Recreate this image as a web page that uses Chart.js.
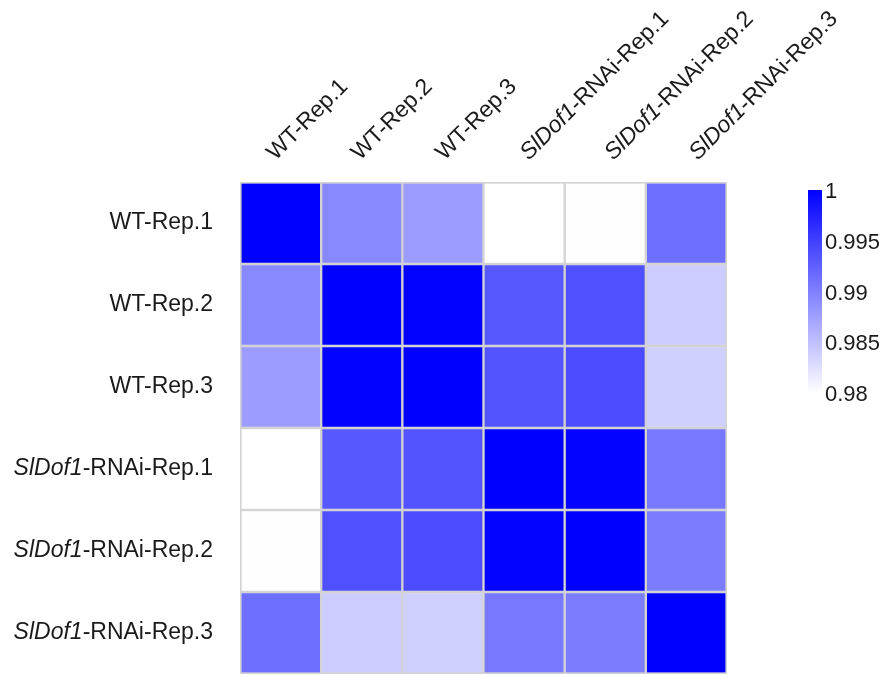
<!DOCTYPE html>
<html>
<head>
<meta charset="utf-8">
<script src="https://cdn.jsdelivr.net/npm/chart.js@4/dist/chart.umd.min.js"></script>
<style>
  html, body { margin: 0; padding: 0; background: #ffffff; }
  canvas { display: block; }
</style>
</head>
<body>
<canvas id="heat" width="883" height="675"></canvas>
<script>
// Sample names; the italic gene prefix is kept separate from the plain suffix
const samplePrefix = ['', '', '', 'SlDof1', 'SlDof1', 'SlDof1'];
const sampleSuffix = ['WT-Rep.1', 'WT-Rep.2', 'WT-Rep.3', '-RNAi-Rep.1', '-RNAi-Rep.2', '-RNAi-Rep.3'];

// Pearson correlation between samples, one row per sample
const rowWT1    = [1.0000, 0.9893, 0.9878, 0.9800, 0.9801, 0.9913];
const rowWT2    = [0.9893, 1.0000, 0.9999, 0.9931, 0.9937, 0.9840];
const rowWT3    = [0.9878, 0.9999, 1.0000, 0.9935, 0.9940, 0.9837];
const rowRNAi1  = [0.9800, 0.9931, 0.9935, 1.0000, 0.9998, 0.9906];
const rowRNAi2  = [0.9801, 0.9937, 0.9940, 0.9998, 1.0000, 0.9903];
const rowRNAi3  = [0.9913, 0.9840, 0.9837, 0.9906, 0.9903, 1.0000];
const corrRows = [rowWT1, rowWT2, rowWT3, rowRNAi1, rowRNAi2, rowRNAi3];

// Colour scale limits and colour-bar tick labels
const colorMin = 0.98;
const colorMax = 1.0;
const barTicks = [1, 0.995, 0.99, 0.985, 0.98];

const FONT = '"Liberation Sans", Arial, sans-serif';

function heatColor(v) {
  let t = (v - colorMin) / (colorMax - colorMin);
  t = Math.max(0, Math.min(1, t));
  const c = Math.round(255 * (1 - t));
  return 'rgb(' + c + ',' + c + ',255)';
}

const fullNames = sampleSuffix.map((s, i) => samplePrefix[i] + s);

// one floating-bar dataset per row; each bar spans one row band on the y scale
const datasets = corrRows.map((row, r) => ({
  label: fullNames[r],
  data: row.map(() => [r, r + 1]),
  backgroundColor: row.map(heatColor),
  borderColor: '#d3d3d3',
  borderWidth: 1.5,
  borderSkipped: false,
  grouped: false,
  barPercentage: 1,
  categoryPercentage: 1
}));

function drawMixedLabel(ctx, prefix, suffix, x, y, size, align) {
  const ital = 'italic ' + size + 'px ' + FONT;
  const norm = size + 'px ' + FONT;
  ctx.font = ital;
  const wp = ctx.measureText(prefix).width;
  ctx.font = norm;
  const ws = ctx.measureText(suffix).width;
  let start = align === 'right' ? x - wp - ws : x;
  ctx.textAlign = 'left';
  ctx.font = ital;
  ctx.fillText(prefix, start, y);
  ctx.font = norm;
  ctx.fillText(suffix, start + wp, y);
}

const decorations = {
  id: 'decorations',
  afterDraw(chart) {
    const ctx = chart.ctx;
    const area = chart.chartArea;
    const xs = chart.scales.x;
    const ys = chart.scales.y;
    ctx.save();
    ctx.fillStyle = '#1a1a1a';

    // outer frame of the grid
    ctx.strokeStyle = '#d3d3d3';
    ctx.lineWidth = 1.5;
    ctx.strokeRect(area.left + 0.75, area.top + 0.75,
                   area.right - area.left - 1.5, area.bottom - area.top - 1.5);

    // row labels on the left
    ctx.textBaseline = 'middle';
    for (let r = 0; r < corrRows.length; r++) {
      const y = ys.getPixelForValue(r + 0.5);
      drawMixedLabel(ctx, samplePrefix[r], sampleSuffix[r], area.left - 27, y, 23, 'right');
    }

    // rotated column labels along the top
    ctx.textBaseline = 'alphabetic';
    const c0 = xs.getPixelForValue(0);
    for (let c = 0; c < fullNames.length; c++) {
      const cx = xs.getPixelForValue(c);
      const ax = c0 - 5 + (cx - c0) * 1.04;
      const ay = area.top - 21;
      ctx.save();
      ctx.translate(ax, ay);
      ctx.rotate(-Math.PI / 4);
      drawMixedLabel(ctx, samplePrefix[c], sampleSuffix[c], 0, 0, 23, 'left');
      ctx.restore();
    }

    // colour bar
    const barX = 808, barW = 14, barTop = 190, barBottom = 400;
    const barLow = 0.9793;
    const yOf = v => barTop + (colorMax - v) / (colorMax - barLow) * (barBottom - barTop);
    const grad = ctx.createLinearGradient(0, barTop, 0, barBottom);
    grad.addColorStop(0, heatColor(colorMax));
    const whiteStop = (yOf(colorMin) - barTop) / (barBottom - barTop);
    for (let k = 1; k <= 10; k++) {
      const v = colorMax - (colorMax - colorMin) * k / 10;
      grad.addColorStop(whiteStop * k / 10, heatColor(v));
    }
    grad.addColorStop(1, heatColor(colorMin));
    ctx.fillStyle = grad;
    ctx.fillRect(barX, barTop, barW, barBottom - barTop);

    ctx.fillStyle = '#1a1a1a';
    ctx.font = '22px ' + FONT;
    ctx.textAlign = 'left';
    ctx.textBaseline = 'middle';
    barTicks.forEach(t => {
      ctx.fillText(String(t), barX + barW + 3, yOf(t) + 2);
    });
    ctx.restore();
  }
};

new Chart(document.getElementById('heat'), {
  type: 'bar',
  data: { labels: fullNames, datasets: datasets },
  options: {
    responsive: false,
    animation: false,
    layout: { padding: { left: 240, right: 156, top: 182, bottom: 1 } },
    plugins: { legend: { display: false }, tooltip: { enabled: false } },
    scales: {
      x: { type: 'category', display: false, offset: true, grid: { display: false } },
      y: { type: 'linear', display: false, min: 0, max: 6, reverse: true, grid: { display: false } }
    }
  },
  plugins: [decorations]
});
</script>
</body>
</html>
